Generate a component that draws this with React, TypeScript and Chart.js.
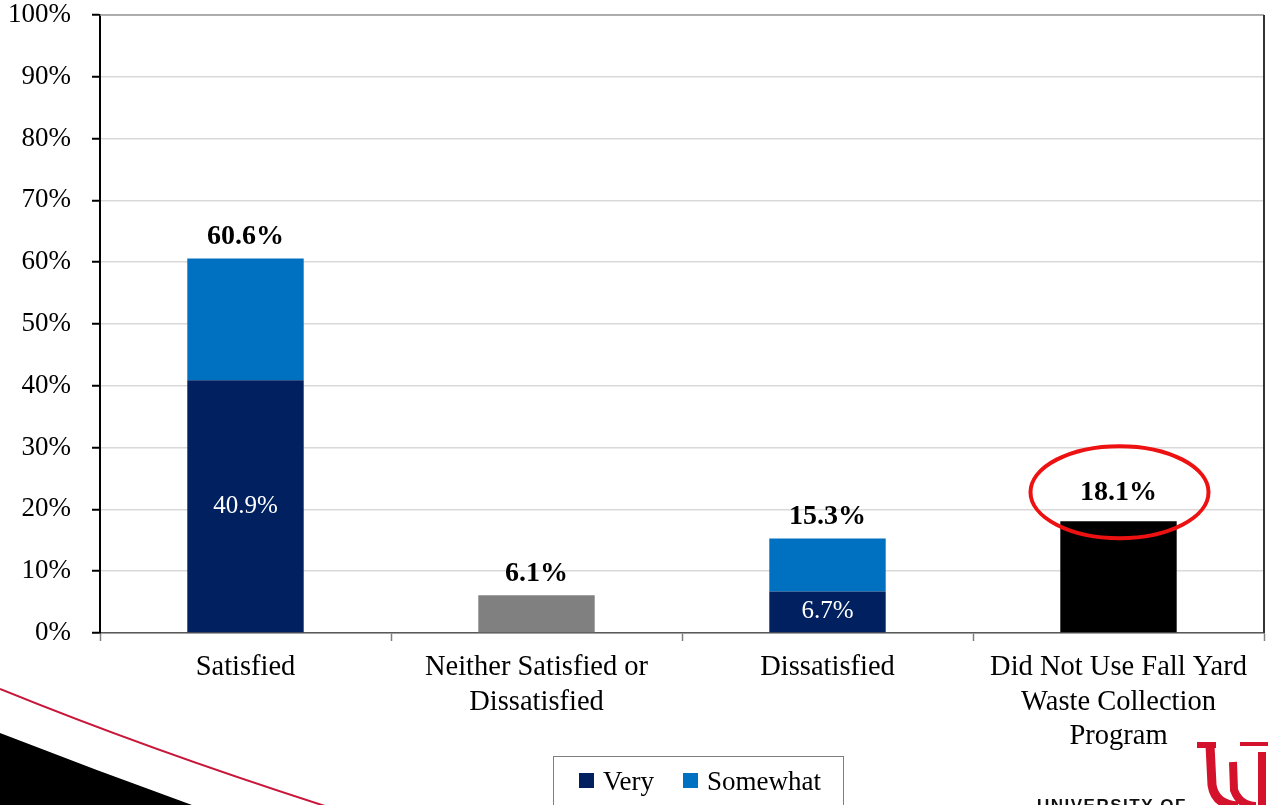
import React, { useEffect, useRef } from "react";
import { Chart, registerables } from "chart.js";

Chart.register(...registerables);

const categories: string[][] = [
  ["Satisfied"],
  ["Neither Satisfied or", "Dissatisfied"],
  ["Dissatisfied"],
  ["Did Not Use Fall Yard", "Waste Collection", "Program"],
];
const veryValues: (number | null)[] = [40.9, null, 6.7, null];
const somewhatValues: (number | null)[] = [19.7, null, 8.6, null];
const neitherValues: (number | null)[] = [null, 6.1, null, null];
const notUsedValues: (number | null)[] = [null, null, null, 18.1];
const totalLabels: string[] = ["60.6%", "6.1%", "15.3%", "18.1%"];
const innerLabels: (string | null)[] = ["40.9%", null, "6.7%", null];
const yTicks: number[] = [0, 10, 20, 30, 40, 50, 60, 70, 80, 90, 100];
const legendNames: string[] = ["Very", "Somewhat"];
const HIGHLIGHT = 3;

const SERIF = "'Liberation Serif', 'Times New Roman', serif";

const decorPlugin = {
  id: "decor",
  afterDraw(chart: any) {
    const ctx = chart.ctx as CanvasRenderingContext2D;
    const area = chart.chartArea;
    const yScale = chart.scales.y;
    ctx.save();

    // plot border top and right
    ctx.strokeStyle = "#9a9a9a";
    ctx.lineWidth = 1.5;
    ctx.beginPath();
    ctx.moveTo(area.left, area.top);
    ctx.lineTo(area.right, area.top);
    ctx.stroke();
    ctx.strokeStyle = "#333333";
    ctx.lineWidth = 2;
    ctx.beginPath();
    ctx.moveTo(area.right, area.top);
    ctx.lineTo(area.right, area.bottom);
    ctx.stroke();

    // totals above bars
    const n = categories.length;
    for (let i = 0; i < n; i++) {
      let total = 0;
      let x = 0;
      chart.data.datasets.forEach((ds: any, di: number) => {
        const v = ds.data[i];
        if (v != null) {
          total += v;
          x = chart.getDatasetMeta(di).data[i].x;
        }
      });
      const topY = yScale.getPixelForValue(total);
      const baseY = topY - 14 - (i === HIGHLIGHT ? 7 : 0);
      ctx.fillStyle = "#000";
      ctx.font = `bold 28px ${SERIF}`;
      ctx.textAlign = "center";
      ctx.textBaseline = "alphabetic";
      ctx.fillText(totalLabels[i], x, baseY);
      if (i === HIGHLIGHT) {
        ctx.strokeStyle = "#ee1111";
        ctx.lineWidth = 4;
        ctx.beginPath();
        ctx.ellipse(x + 1, baseY - 8, 89, 46, 0, 0, Math.PI * 2);
        ctx.stroke();
      }
    }

    // inner labels in "Very" segments
    const veryMeta = chart.getDatasetMeta(0);
    for (let i = 0; i < n; i++) {
      const lab = innerLabels[i];
      if (!lab) continue;
      const el = veryMeta.data[i];
      ctx.fillStyle = "#ffffff";
      ctx.font = `25px ${SERIF}`;
      ctx.textAlign = "center";
      ctx.textBaseline = "middle";
      ctx.fillText(lab, el.x, (el.y + el.base) / 2);
    }

    // legend
    ctx.strokeStyle = "#7f7f7f";
    ctx.lineWidth = 1;
    ctx.strokeRect(553.5, 756.5, 290, 80);
    const lx = [579, 683];
    legendNames.forEach((name, k) => {
      ctx.fillStyle = chart.data.datasets[k].backgroundColor;
      ctx.fillRect(lx[k], 773, 15, 15);
      ctx.fillStyle = "#000";
      ctx.font = `27px ${SERIF}`;
      ctx.textAlign = "left";
      ctx.textBaseline = "alphabetic";
      ctx.fillText(name, lx[k] + 24, 790);
    });

    // decorative swoosh bottom-left
    ctx.fillStyle = "#000";
    ctx.beginPath();
    ctx.moveTo(0, 733);
    ctx.quadraticCurveTo(95, 770, 192, 805);
    ctx.lineTo(0, 805);
    ctx.closePath();
    ctx.fill();
    ctx.strokeStyle = "#c8163a";
    ctx.lineWidth = 2;
    ctx.beginPath();
    ctx.moveTo(0, 689);
    ctx.quadraticCurveTo(150, 750, 325, 806);
    ctx.stroke();

    // logo bottom-right
    ctx.fillStyle = "#111";
    ctx.font = `bold 17px 'Liberation Sans', Arial, sans-serif`;
    ctx.textAlign = "left";
    ctx.textBaseline = "alphabetic";
    (ctx as any).letterSpacing = "1.5px";
    ctx.fillText("UNIVERSITY OF", 1037, 811);
    (ctx as any).letterSpacing = "0px";
    ctx.strokeStyle = "#d4122b";
    ctx.lineCap = "butt";
    ctx.lineWidth = 6;
    ctx.beginPath();
    ctx.moveTo(1197, 745);
    ctx.lineTo(1216, 745);
    ctx.stroke();
    ctx.lineWidth = 9;
    ctx.beginPath();
    ctx.moveTo(1210, 745);
    ctx.lineTo(1212, 785);
    ctx.quadraticCurveTo(1215, 805, 1238, 806);
    ctx.stroke();
    ctx.lineWidth = 8;
    ctx.beginPath();
    ctx.moveTo(1233, 762);
    ctx.lineTo(1234, 790);
    ctx.quadraticCurveTo(1240, 806, 1256, 806);
    ctx.stroke();
    ctx.beginPath();
    ctx.moveTo(1262, 752);
    ctx.lineTo(1262, 806);
    ctx.stroke();
    ctx.lineWidth = 4;
    ctx.beginPath();
    ctx.moveTo(1240, 744);
    ctx.lineTo(1268, 744);
    ctx.stroke();

    ctx.restore();
  },
};

export default function App() {
  const canvasRef = useRef<HTMLCanvasElement | null>(null);

  useEffect(() => {
    const canvas = canvasRef.current;
    if (!canvas) return;
    const chart = new Chart(canvas, {
      type: "bar",
      data: {
        labels: categories as any,
        datasets: [
          { label: "Very", data: veryValues, backgroundColor: "#002060", stack: "s" },
          { label: "Somewhat", data: somewhatValues, backgroundColor: "#0070c0", stack: "s" },
          { label: "Neither", data: neitherValues, backgroundColor: "#808080", stack: "s" },
          { label: "Did Not Use", data: notUsedValues, backgroundColor: "#000000", stack: "s" },
        ],
      },
      options: {
        responsive: false,
        animation: false,
        devicePixelRatio: 1,
        layout: { padding: { top: 15, right: 4, left: 0, bottom: 0 } },
        datasets: { bar: { barPercentage: 0.4, categoryPercentage: 1 } } as any,
        plugins: {
          legend: { display: false },
          tooltip: { enabled: false },
        },
        scales: {
          x: {
            stacked: true,
            offset: true,
            grid: {
              display: true,
              drawOnChartArea: false,
              offset: true,
              tickLength: 8,
              tickColor: "#808080",
              tickWidth: 1.5,
            },
            border: { color: "#595959", width: 1.5 },
            ticks: {
              color: "#000",
              padding: 9,
              maxRotation: 0,
              autoSkip: false,
              font: { family: SERIF, size: 28.5, lineHeight: 1.22 },
            },
            afterFit(scale: any) {
              scale.height = 172;
              scale.paddingLeft = 0;
              scale.paddingRight = 0;
            },
          },
          y: {
            stacked: true,
            min: 0,
            max: 100,
            afterBuildTicks(scale: any) {
              scale.ticks = yTicks.map((v) => ({ value: v }));
            },
            grid: {
              color: "#d9d9d9",
              lineWidth: 1.5,
              tickLength: 8,
              tickColor: "#000",
              tickWidth: 2,
            },
            border: { color: "#000", width: 2 },
            ticks: {
              color: "#000",
              padding: 21,
              font: { family: SERIF, size: 27, lineHeight: 1 },
              callback: (v: any) => `${v}%`,
            },
            afterFit(scale: any) {
              scale.width = 100;
              scale.paddingTop = 0;
              scale.paddingBottom = 0;
            },
          },
        },
      },
      plugins: [decorPlugin],
    });
    return () => chart.destroy();
  }, []);

  return (
    <div
      style={{
        position: "fixed",
        left: 0,
        top: 0,
        width: 1268,
        height: 805,
        background: "#ffffff",
        overflow: "hidden",
      }}
    >
      <canvas ref={canvasRef} width={1268} height={805} style={{ display: "block" }} />
    </div>
  );
}
